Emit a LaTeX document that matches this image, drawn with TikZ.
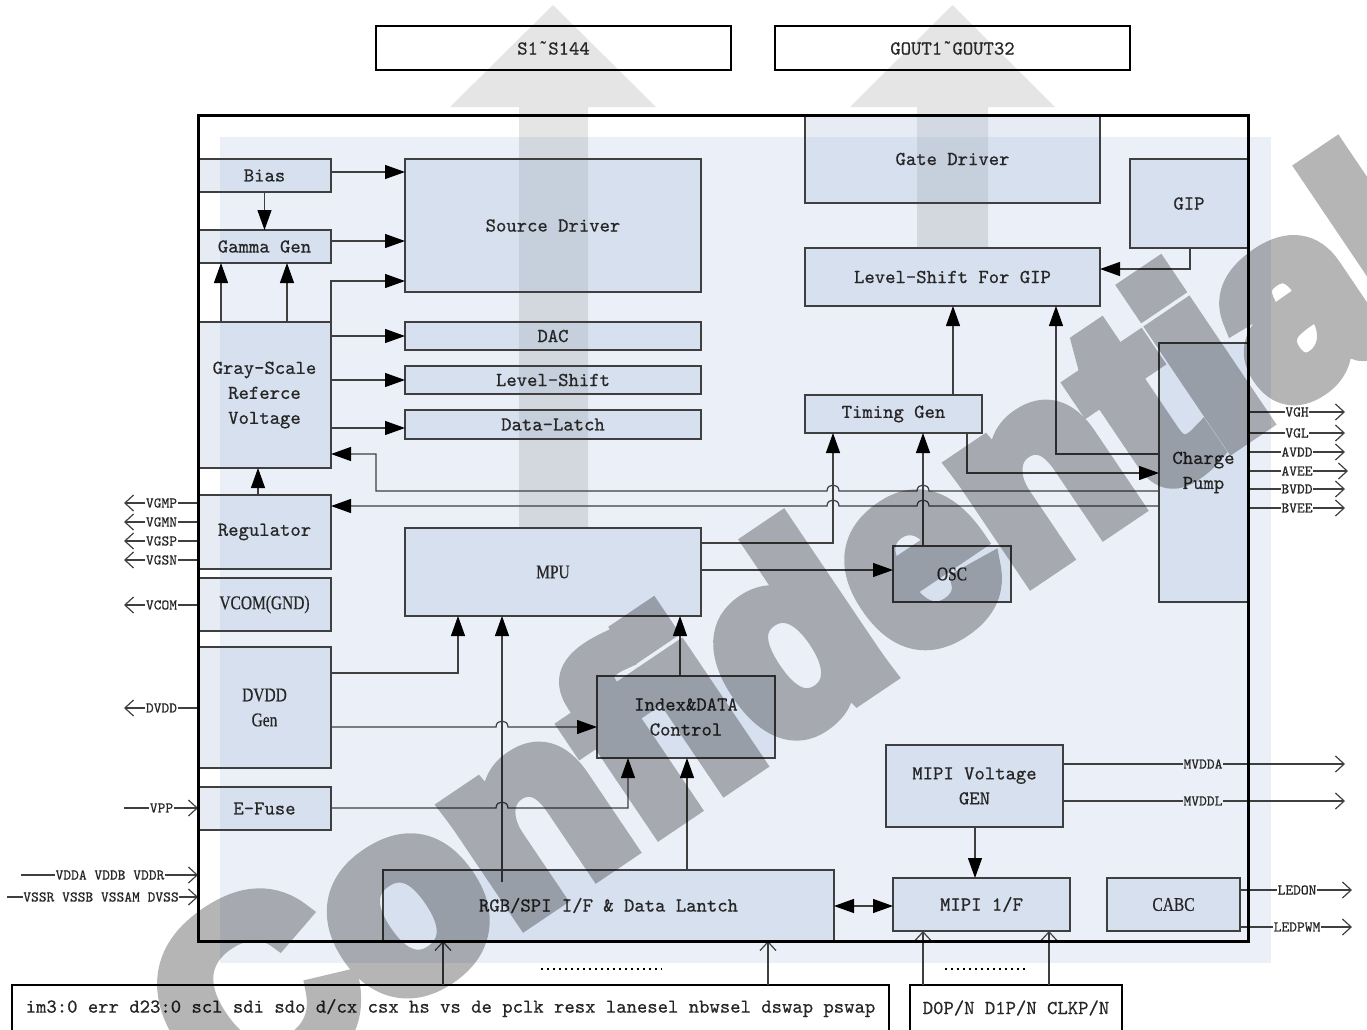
\documentclass[tikz,border=0pt]{standalone}
\usepackage{fontspec}
\setmonofont{lmmono10-regular.otf}[FakeBold=0.6]
\newfontfamily\cnd[FakeStretch=0.8,FakeBold=0.6]{Liberation Serif}
\newfontfamily\wmfont{Liberation Sans}[BoldFeatures={FakeBold=8}]
\usetikzlibrary{arrows.meta}
\definecolor{bgc}{HTML}{EBF0F8}
\definecolor{boxc}{HTML}{ABBEDA}
\definecolor{lnc}{HTML}{3F3F3F}
\definecolor{txc}{HTML}{262626}
\newcommand\mfont{\ttfamily\fontsize{14.8}{18.75}\selectfont}
\newcommand\cfont{\cnd\fontsize{14.5}{18.75}\selectfont}
\newcommand\sfont{\ttfamily\fontsize{11.1}{13}\selectfont}
\newcommand\tld{\makebox[0.525em]{\cnd\char"02DC}}
\tikzset{
 box/.style={draw=lnc,line width=1pt,fill=boxc,fill opacity=0.3,text opacity=1,inner sep=0pt,outer sep=0pt,align=center,text=txc,font=\mfont},
 cbox/.style={box,font=\cfont},
 wbox/.style={draw=black,line width=1.5pt,inner sep=0pt,outer sep=0pt,text=txc,align=center},
 ln/.style={draw=lnc,line width=0.9pt},
 arr/.style={ln,-{Triangle[length=15pt,width=10.5pt,color=black]}},
 darr/.style={ln,{Triangle[length=15pt,width=10.5pt,color=black]}-{Triangle[length=15pt,width=10.5pt,color=black]}},
 oarr/.style={ln,-{Straight Barb[length=6.5pt,width=12pt]}},
 elbl/.style={font=\sfont,inner sep=0.5pt,outer sep=0pt,text=txc},
 ghost/.style={fill=black,fill opacity=0.1,draw=none},
}
\newcommand\blk[7][box]{\node[#1,minimum width={(#4-#2)*0.75pt},minimum height={(#5-#3)*0.75pt}] (#6) at ({(#2+#4)/2},{(#3+#5)/2}) {#7};}
\newcommand\hopL[2]{-- ({#1+6},#2) .. controls ({#1+6},{#2-8}) and ({#1-6},{#2-8}) .. ({#1-6},#2)}
\newcommand\hopR[2]{-- ({#1-6},#2) .. controls ({#1-6},{#2-8}) and ({#1+6},{#2-8}) .. ({#1+6},#2)}
\newcommand\outL[4]{\node[elbl] (l#1) at (161.5,#3) {#2}; \coordinate (t#1) at (124,#3); \draw[ln] (#4.west |- l#1.east) -- (l#1.east); \draw[oarr] (l#1.west) -- (t#1);}
\newcommand\outR[6]{\node[elbl] (l#1) at (#5,#3) {#2}; \coordinate (t#1) at (#6,#3); \draw[ln] (#4.east |- l#1.west) -- (l#1.west); \draw[oarr] (l#1.east) -- (t#1);}
\begin{document}
\begin{tikzpicture}[x=0.75pt,y=-0.75pt]
\useasboundingbox (0,0) rectangle (1367,1029);
\clip (0,0) rectangle (1367,1029);
% background layer
\fill[bgc] (220,137) rectangle (1271,963);
\fill[ghost] (519,528) -- (519,107) -- (450,107) -- (553,5) -- (656,107) -- (588,107) -- (588,528) -- cycle;
\fill[ghost] (917,248) -- (917,107) -- (850,107) -- (952.5,5) -- (1055,107) -- (988,107) -- (988,248) -- cycle;
\node[inner sep=0pt,outer sep=0pt,minimum width={1050*0.75pt},minimum height={826*0.75pt}] (chip) at (723,528) {};
% top outputs
\blk[wbox,font=\mfont]{376}{26}{731}{70}{s1}{S1\tld S144}
\blk[wbox,font=\mfont]{775}{26}{1130}{70}{gout}{GOUT1\tld GOUT32}
% blocks
\blk{198}{159}{331}{192}{bias}{Bias}
\blk{198}{230}{331}{263}{gamma}{Gamma Gen}
\blk{198}{322}{331}{468}{gray}{Gray-Scale\\Referce\\Voltage}
\blk{198}{495}{331}{569}{reg}{Regulator}
\blk[cbox]{198}{578}{331}{631}{vcom}{VCOM(GND)}
\blk[cbox]{198}{647}{331}{768}{dvdd}{DVDD\\Gen}
\blk{198}{787}{331}{830}{efuse}{E-Fuse}
\blk{405}{159}{701}{292}{src}{Source Driver}
\blk{405}{322}{701}{350}{dac}{DAC}
\blk{405}{366}{701}{394}{ls}{Level-Shift}
\blk{405}{410}{701}{439}{dl}{Data-Latch}
\blk[cbox]{405}{528}{701}{616}{mpu}{MPU}
\blk{597}{676}{775}{758}{idx}{Index\&DATA\\Control}
\blk{383}{870}{834}{941}{rgb}{RGB/SPI I/F \& Data Lantch}
\blk{805}{115}{1100}{203}{gate}{Gate Driver}
\blk{1130}{159}{1248}{248}{gip}{GIP}
\blk{805}{248}{1100}{306}{lsg}{Level-Shift For GIP}
\blk{805}{395}{982}{433}{tg}{Timing Gen}
\blk{1159}{343}{1248}{602}{cp}{Charge\\Pump}
\blk[cbox]{893}{546}{1011}{602}{osc}{OSC}
\blk{886}{745}{1063}{827}{mipiv}{MIPI Voltage\\GEN}
\blk{893}{878}{1070}{931}{mipi}{MIPI 1/F}
\blk[cbox]{1107}{878}{1240}{931}{cabc}{CABC}
% bottom inputs
\blk[wbox,font=\mfont]{12}{985}{889}{1031}{sig}{im3:0 err d23:0 scl sdi sdo d/cx csx hs vs de pclk resx lanesel nbwsel dswap pswap}
\blk[wbox,font=\mfont]{910}{985}{1122}{1031}{msig}{D0P/N D1P/N CLKP/N}
\draw[line width=1.5pt,dash pattern=on 1.5pt off 3pt] (541,969) -- (662,969);
\draw[line width=1.5pt,dash pattern=on 1.5pt off 3pt] (945,969) -- (1025,969);
% connectors
\draw[arr] (bias.east |- 0,172) -- (src.west |- 0,172);
\draw[arr] (gamma.east |- 0,241) -- (src.west |- 0,241);
\draw[arr] (gray.north east) -- (gray.north east |- 0,281) -- (src.west |- 0,281);
\draw[arr] (bias.south) -- (gamma.north);
\draw[arr] (gray.north -| 221,0) -- (gamma.south -| 221,0);
\draw[arr] (gray.north -| 287,0) -- (gamma.south -| 287,0);
\draw[arr] (gray.east |- dac.west) -- (dac.west);
\draw[arr] (gray.east |- ls.west) -- (ls.west);
\draw[arr] (gray.east |- 0,428) -- (dl.west |- 0,428);
\draw[arr] (reg.north -| 258,0) -- (gray.south -| 258,0);
\draw[arr] (cp.west |- 0,491) \hopL{923}{491} \hopL{833}{491} -- (376,491) -- (376,454) -- (gray.east |- 0,454);
\draw[arr] (cp.west |- 0,506) \hopL{923}{506} \hopL{833}{506} -- (reg.east |- 0,506);
\draw[arr] (mpu.east |- 0,543) -- (833,543) -- (tg.south -| 833,0);
\draw[arr] (mpu.east |- 0,570) -- (osc.west |- 0,570);
\draw[arr] (osc.north -| 923,0) -- (tg.south -| 923,0);
\draw[arr] (tg.north -| 953,0) -- (lsg.south -| 953,0);
\draw[arr] (tg.south -| 967,0) -- (967,473) -- (cp.west |- 0,473);
\draw[arr] (cp.west |- 0,454) -- (1056,454) -- (lsg.south -| 1056,0);
\draw[arr] (gip.south -| 1190,0) -- (1190,269) -- (lsg.east |- 0,269);
\draw[arr] (dvdd.east |- 0,673) -- (458,673) -- (mpu.south -| 458,0);
\draw[arr] (dvdd.east |- 0,727) \hopR{502}{727} -- (idx.west |- 0,727);
\draw[arr] (efuse.east |- 0,808) \hopR{502}{808} -- (628,808) -- (idx.south -| 628,0);
\coordinate (rgbin) at (502,882);
\draw[arr] (rgbin) -- (mpu.south -| 502,0);
\draw[arr] (rgb.north -| 687,0) -- (idx.south -| 687,0);
\draw[arr] (idx.north -| 680,0) -- (mpu.south -| 680,0);
\draw[darr] (rgb.east |- 0,906) -- (mipi.west |- 0,906);
\draw[arr] (mipiv.south -| 975,0) -- (mipi.north -| 975,0);
\draw[oarr] (sig.north -| 443,0) -- (rgb.south -| 443,0);
\draw[oarr] (sig.north -| 768,0) -- (rgb.south -| 768,0);
\draw[oarr] (msig.north -| 923,0) -- (mipi.south -| 923,0);
\draw[oarr] (msig.north -| 1049,0) -- (mipi.south -| 1049,0);
% external signals left
\outL{vgmp}{VGMP}{503}{reg}
\outL{vgmn}{VGMN}{522}{reg}
\outL{vgsp}{VGSP}{541}{reg}
\outL{vgsn}{VGSN}{560}{reg}
\outL{vcomo}{VCOM}{605}{vcom}
\outL{dvddo}{DVDD}{708}{dvdd}
\node[elbl] (lvpp) at (161.5,808) {VPP};
\coordinate (svpp) at (124,808);
\draw[ln] (svpp) -- (lvpp.west);
\draw[oarr] (lvpp.east) -- (efuse.west |- lvpp.east);
\node[elbl] (lvdd) at (110,875) {VDDA VDDB VDDR};
\coordinate (svdd) at (21,875);
\draw[ln] (svdd) -- (lvdd.west);
\draw[oarr] (lvdd.east) -- (chip.west |- lvdd.east);
\node[elbl] (lvss) at (101,897) {VSSR VSSB VSSAM DVSS};
\coordinate (svss) at (7,897);
\draw[ln] (svss) -- (lvss.west);
\draw[oarr] (lvss.east) -- (chip.west |- lvss.east);
% external signals right
\outR{vgh}{VGH}{412}{cp}{1297}{1345}
\outR{vgl}{VGL}{433}{cp}{1297}{1345}
\outR{avdd}{AVDD}{452}{cp}{1297}{1345}
\outR{avee}{AVEE}{471}{cp}{1297}{1348}
\outR{bvdd}{BVDD}{489}{cp}{1297}{1345}
\outR{bvee}{BVEE}{508}{cp}{1297}{1345}
\outR{mvdda}{MVDDA}{764}{mipiv}{1203}{1345}
\outR{mvddl}{MVDDL}{801}{mipiv}{1203}{1345}
\outR{ledon}{LEDON}{890}{cabc}{1297}{1352}
\outR{ledpwm}{LEDPWM}{927}{cabc}{1297}{1352}
% chip outline
\draw[line width=2.25pt] (chip.south west) rectangle (chip.north east);
% watermark
\begin{scope}[transparency group,opacity=0.29]
\node[rotate=34,text=black,inner sep=0pt,font=\wmfont\bfseries\fontsize{192}{192}\selectfont] (wm) at (790,630) {Confidential};
\end{scope}
\end{tikzpicture}
\end{document}
